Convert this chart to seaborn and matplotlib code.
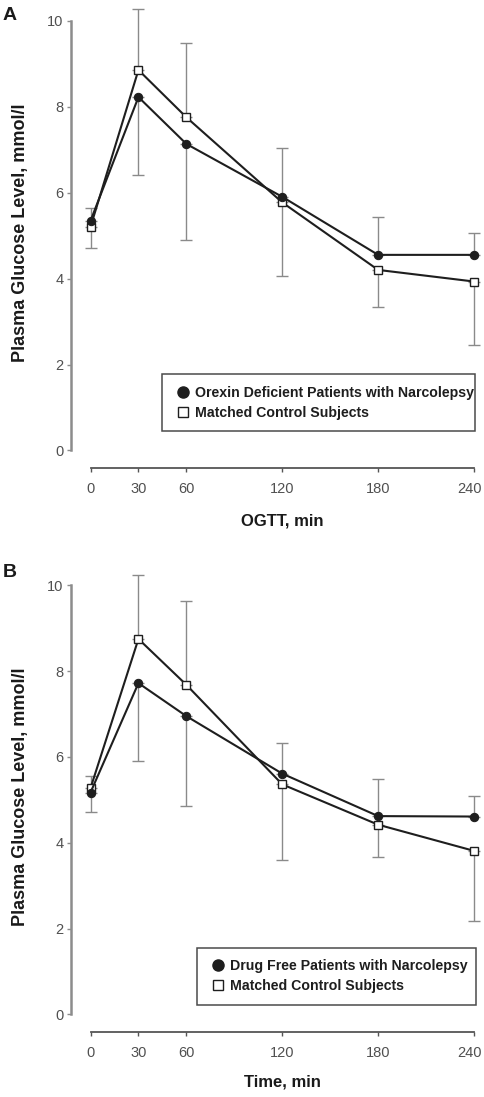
import matplotlib
matplotlib.use("Agg")
import matplotlib.pyplot as plt
import matplotlib.transforms as mtransforms
import seaborn as sns
import pandas as pd
import numpy as np
from matplotlib.lines import Line2D

# ------------------------------------------------------------
# data (mmol/l)
# ------------------------------------------------------------
times = [0, 30, 60, 120, 180, 240]

# panel A: orexin deficient patients vs matched controls
orexin_a = [5.34, 8.22, 7.13, 5.90, 4.55, 4.55]
orexin_a_sd = [0.29, 1.81, 2.23, 1.13, 0.87, 0.52]
control_a = [5.20, 8.85, 7.75, 5.77, 4.20, 3.93]
control_a_sd = [0.50, 1.43, 1.72, 1.71, 0.87, 1.47]

# panel B: drug free patients vs matched controls
drugfree_b = [5.17, 7.72, 6.95, 5.61, 4.62, 4.61]
drugfree_b_sd = [0.45, 1.81, 2.09, 0.72, 0.86, 0.47]
control_b = [5.27, 8.75, 7.68, 5.36, 4.42, 3.81]
control_b_sd = [0.28, 1.48, 1.96, 1.76, 0.76, 1.64]

yticks = [0, 2, 4, 6, 8, 10]
ylabel = "Plasma Glucose Level, mmol/l"
control_label = "Matched Control Subjects"

sns.set_style("ticks")
plt.rcParams["font.family"] = ["Liberation Sans", "DejaVu Sans"]

LINE = "#1e1e1e"
ERR = "#8a8a8a"


def draw_panel(ax, patient, patient_sd, control, control_sd, patient_label,
               xlabel, xlab_y, leg_box):
    patient = np.array(patient)
    control = np.array(control)
    patient_sd = np.array(patient_sd)
    control_sd = np.array(control_sd)

    # one-sided error bars: up from the higher curve, down from the lower one
    p_high = patient >= control
    hi = np.where(p_high, patient, control)
    hi_sd = np.where(p_high, patient_sd, control_sd)
    lo = np.where(p_high, control, patient)
    lo_sd = np.where(p_high, control_sd, patient_sd)
    zeros = np.zeros(len(times))
    ax.errorbar(times, hi, yerr=[zeros, hi_sd], fmt="none", ecolor=ERR,
                elinewidth=1, capsize=4, capthick=1, zorder=1, clip_on=False)
    ax.errorbar(times, lo, yerr=[lo_sd, zeros], fmt="none", ecolor=ERR,
                elinewidth=1, capsize=4, capthick=1, zorder=1, clip_on=False)

    df = pd.DataFrame({"time": times, "patient": patient, "control": control})
    sns.lineplot(data=df, x="time", y="control", ax=ax, color=LINE,
                 linewidth=1.5, marker="s", markersize=5.5,
                 markerfacecolor="white", markeredgecolor=LINE,
                 markeredgewidth=1, zorder=3, clip_on=False)
    sns.lineplot(data=df, x="time", y="patient", ax=ax, color=LINE,
                 linewidth=1.5, marker="o", markersize=6,
                 markerfacecolor=LINE, markeredgecolor=LINE,
                 zorder=4, clip_on=False)

    ax.set_xlim(0, 240)
    ax.set_ylim(0, 10.35)
    ax.set_xticks(times)
    ax.set_yticks(yticks)
    sns.despine(ax=ax)
    ax.spines["left"].set_position(("outward", 14))
    ax.spines["bottom"].set_position(("outward", 12.6))
    ax.spines["left"].set_bounds(0, 10)
    ax.spines["bottom"].set_bounds(0, 240)
    ax.spines["left"].set_color("#8c8c8c")
    ax.spines["left"].set_linewidth(1.8)
    ax.spines["bottom"].set_color("#555555")
    ax.spines["bottom"].set_linewidth(1.3)
    ax.tick_params(axis="y", direction="out", length=3, width=1,
                   color="#8c8c8c", labelcolor="#505050", pad=2.5,
                   labelsize=10.5)
    ax.tick_params(axis="x", direction="out", length=3, width=1,
                   color="#555555", labelcolor="#505050", pad=7,
                   labelsize=10.5)
    # the last tick label sits a little inside, as in the original
    last = ax.get_xticklabels()[-1]
    last.set_transform(last.get_transform() + mtransforms.ScaledTranslation(
        -4 / 100, 0, ax.figure.dpi_scale_trans))

    ax.set_xlabel(xlabel, fontsize=12, fontweight="bold", color="#1a1a1a")
    ax.xaxis.set_label_coords(0.5, xlab_y)
    ax.set_ylabel(ylabel, fontsize=13, fontweight="bold", color="#1a1a1a")
    ax.yaxis.set_label_coords(-0.161, 0.489)

    handles = [
        Line2D([], [], linestyle="none", marker="o", markersize=8,
               markerfacecolor=LINE, markeredgecolor=LINE),
        Line2D([], [], linestyle="none", marker="s", markersize=7.5,
               markerfacecolor="white", markeredgecolor=LINE,
               markeredgewidth=1),
    ]
    leg = ax.legend(handles, [patient_label, control_label], loc="center",
                    mode="expand", bbox_to_anchor=leg_box, borderaxespad=0,
                    frameon=True, fancybox=False, edgecolor=LINE,
                    handlelength=1.3, handletextpad=0.2, labelspacing=0.39,
                    borderpad=0.83,
                    prop={"weight": "bold", "size": 10.2})
    leg.get_frame().set_linewidth(1.1)
    for t in leg.get_texts():
        t.set_color(LINE)


fig = plt.figure(figsize=(4.85, 10.97), dpi=100)
ax_a = fig.add_axes([0.1866, 0.58934, 0.7907, 0.40565])
ax_b = fig.add_axes([0.1866, 0.07539, 0.7907, 0.40474])

draw_panel(ax_a, orexin_a, orexin_a_sd, control_a, control_a_sd,
           "Orexin Deficient Patients with Narcolepsy", "OGTT, min", -0.142,
           (0.1864, 0.0371, 0.8162, 0.14))
draw_panel(ax_b, drugfree_b, drugfree_b_sd, control_b, control_b_sd,
           "Drug Free Patients with Narcolepsy", "Time, min", -0.1367,
           (0.2785, 0.0158, 0.7259, 0.14))

fig.text(0.005, 0.994, "A", fontsize=14, fontweight="bold", va="top",
         ha="left", color="#1a1a1a")
fig.text(0.005, 0.486, "B", fontsize=14, fontweight="bold", va="top",
         ha="left", color="#1a1a1a")

fig.savefig("out.png", dpi=100)
